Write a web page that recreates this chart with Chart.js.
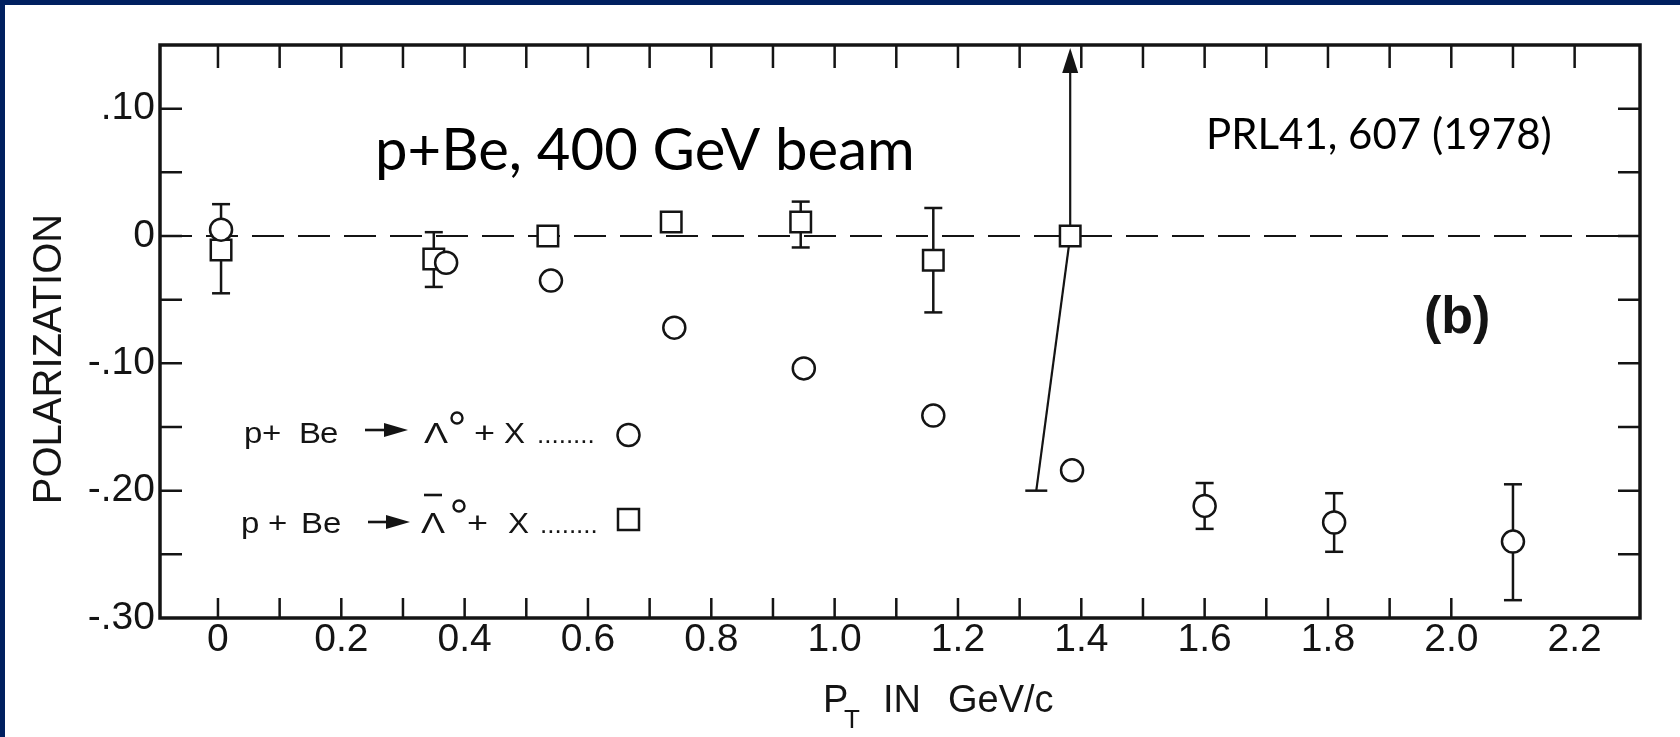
<!DOCTYPE html>
<html><head><meta charset="utf-8">
<script src="https://cdn.jsdelivr.net/npm/chart.js@4.4.1/dist/chart.umd.min.js"></script>
<style>
html,body{margin:0;padding:0;background:#fff;overflow:hidden;}
#wrap{position:absolute;left:0;top:0;width:1680px;height:737px;}
.bar{position:absolute;background:#002060;}
</style></head><body>
<div id="wrap"><canvas id="c"></canvas></div>
<div class="bar" style="left:0;top:0;width:1680px;height:5px"></div>
<div class="bar" style="left:0;top:0;width:5px;height:737px"></div>
<script>
// ---- data ----
const lambdaPt      = [0.005, 0.37, 0.54, 0.74, 0.95, 1.16, 1.385, 1.60, 1.81, 2.10];
const lambdaPol     = [0.005, -0.021, -0.035, -0.072, -0.104, -0.141, -0.184, -0.212, -0.225, -0.240];
const lambdaErrLow  = [null, null, null, null, null, null, null, -0.230, -0.248, -0.286];
const lambdaErrHigh = [null, null, null, null, null, null, null, -0.194, -0.202, -0.195];

const antiPt      = [0.005, 0.35, 0.535, 0.735, 0.945, 1.16, 1.382];
const antiPol     = [-0.011, -0.018, 0.0, 0.011, 0.011, -0.019, 0.0];
const antiErrLow  = [-0.045, -0.040, null, null, -0.009, -0.060, -0.200];
const antiErrHigh = [0.025, 0.003, null, null, 0.027, 0.022, null];
const antiOffScaleIndex = 6;      // upper error off scale (arrow)
const antiOffScaleLowPt = 1.327;  // where the lower leg ends

const xTickValues = [0, 0.2, 0.4, 0.6, 0.8, 1.0, 1.2, 1.4, 1.6, 1.8, 2.0, 2.2];
const xTickLabels = ["0", "0.2", "0.4", "0.6", "0.8", "1.0", "1.2", "1.4", "1.6", "1.8", "2.0", "2.2"];
const yTickValues = [0.10, 0, -0.10, -0.20, -0.30];
const yTickLabels = [".10", "0", "-.10", "-.20", "-.30"];
const xMarksTop    = [0,0.1,0.2,0.3,0.4,0.5,0.6,0.7,0.8,0.9,1.0,1.1,1.2,1.3,1.4,1.5,1.6,1.7,1.8,1.9,2.0,2.1,2.2];
const xMarksBottom = [0,0.1,0.2,0.3,0.4,0.5,0.6,0.7,0.8,0.9,1.0,1.1,1.2,1.3,1.4,1.5,1.6,1.7,1.8,1.9,2.0];
const yMarks       = [0.10,0.05,0,-0.05,-0.10,-0.15,-0.20,-0.25];

const yTitle = "POLARIZATION";
const xTitleMain = "P", xTitleSub = "T", xTitleRest = ["IN", "GeV/c"];
const beamNote = "p+Be, 400 GeV beam";
const refNote = "PRL41, 607 (1978)";
const panelNote = "(b)";
const legendReactant = ["p", "+", "B", "e"];
const legendProduct = ["\u039B", "\u039B"];
const legendBarred = [false, true];

const ink = '#141414';
const SANS = '"Liberation Sans", Arial, sans-serif';

function wideText(ctx, t, x, y, sx) {
  ctx.save(); ctx.translate(x, y); ctx.scale(sx, 1); ctx.fillText(t, 0, 0); ctx.restore();
}

const paperPlugin = {
  id: 'paper',
  beforeDatasetsDraw(chart) {
    const {ctx, chartArea: a, scales: {x, y}} = chart;
    ctx.save();
    ctx.strokeStyle = ink; ctx.fillStyle = ink;
    // dashed zero line
    ctx.lineWidth = 2; ctx.setLineDash([32, 14]);
    const y0 = y.getPixelForValue(0);
    ctx.beginPath(); ctx.moveTo(a.left, y0); ctx.lineTo(a.right, y0); ctx.stroke();
    ctx.setLineDash([]);
    // error bars
    ctx.lineWidth = 2.5;
    const cap = (px, py, w) => { ctx.beginPath(); ctx.moveTo(px - w/2, py); ctx.lineTo(px + w/2, py); ctx.stroke(); };
    const bars = (pts, lo, hi, skip) => {
      pts.forEach((p, i) => {
        if (i === skip) return;
        if (lo[i] == null && hi[i] == null) return;
        const px = x.getPixelForValue(p);
        const pl = y.getPixelForValue(lo[i]), ph = y.getPixelForValue(hi[i]);
        ctx.beginPath(); ctx.moveTo(px, pl); ctx.lineTo(px, ph); ctx.stroke();
        cap(px, pl, 18); cap(px, ph, 18);
      });
    };
    bars(lambdaPt, lambdaErrLow, lambdaErrHigh, -1);
    bars(antiPt, antiErrLow, antiErrHigh, antiOffScaleIndex);
    // off-scale point: arrow up + slanted lower leg
    const k = antiOffScaleIndex;
    const px = x.getPixelForValue(antiPt[k]), py = y.getPixelForValue(antiPol[k]);
    ctx.lineWidth = 2.2;
    ctx.beginPath(); ctx.moveTo(px, py); ctx.lineTo(px, a.top + 20); ctx.stroke();
    ctx.beginPath(); ctx.moveTo(px, a.top + 3); ctx.lineTo(px - 8, a.top + 28); ctx.lineTo(px + 8, a.top + 28); ctx.closePath(); ctx.fill();
    const lx = x.getPixelForValue(antiOffScaleLowPt), ly = y.getPixelForValue(antiErrLow[k]);
    ctx.beginPath(); ctx.moveTo(px, py); ctx.lineTo(lx, ly); ctx.stroke();
    ctx.lineWidth = 2.5; cap(lx, ly, 22);
    ctx.restore();
  },
  afterDraw(chart) {
    const {ctx, chartArea: a, scales: {x, y}} = chart;
    ctx.save();
    ctx.strokeStyle = ink; ctx.fillStyle = ink;
    // frame
    ctx.lineWidth = 3.5;
    ctx.strokeRect(a.left, a.top, a.right - a.left, a.bottom - a.top);
    // inward tick marks
    ctx.lineWidth = 2.5;
    ctx.beginPath();
    xMarksTop.forEach(v => { const p = x.getPixelForValue(v); ctx.moveTo(p, a.top); ctx.lineTo(p, a.top + 23); });
    xMarksBottom.forEach(v => { const p = x.getPixelForValue(v); ctx.moveTo(p, a.bottom); ctx.lineTo(p, a.bottom - 20); });
    yMarks.forEach(v => { const p = y.getPixelForValue(v); ctx.moveTo(a.left, p); ctx.lineTo(a.left + 22, p); ctx.moveTo(a.right, p); ctx.lineTo(a.right - 22, p); });
    ctx.stroke();

    // axis titles
    ctx.save();
    ctx.translate(50, 359); ctx.rotate(-Math.PI / 2);
    ctx.font = '40px ' + SANS; ctx.textAlign = 'center'; ctx.textBaseline = 'middle';
    ctx.fillText(yTitle, 0, 0);
    ctx.restore();
    ctx.textAlign = 'left'; ctx.textBaseline = 'alphabetic';
    ctx.font = '38px ' + SANS;
    ctx.fillText(xTitleMain, 823, 712);
    ctx.font = '26px ' + SANS;
    ctx.fillText(xTitleSub, 844, 728);
    ctx.font = '38px ' + SANS;
    ctx.fillText(xTitleRest[0], 883, 712);
    ctx.fillText(xTitleRest[1], 948, 712);

    // annotations
    ctx.fillStyle = '#000';
    ctx.font = '58px Lato, "Open Sans", sans-serif';
    ctx.fillText(beamNote, 375, 170);
    ctx.font = '42px Lato, "Open Sans", sans-serif';
    ctx.fillText(refNote, 1206, 149);
    ctx.fillStyle = ink;
    ctx.font = 'bold 52px ' + SANS;
    ctx.fillText(panelNote, 1424, 333);

    // legend
    const bases = [443, 533];
    const reactX = [[244, 262, 299, 320], [241, 268, 301, 323]];
    const arrowX = [[365, 408, 430], [368, 410, 522]];
    const lamX = [424, 421], degX = [451, 453], plusX = [474, 467], xX = [504, 508], dotsX = [537, 540];
    bases.forEach((base, i) => {
      ctx.font = '30px ' + SANS;
      legendReactant.forEach((t, j) => wideText(ctx, t, reactX[i][j], base, 1.1));
      // arrow
      const [ax0, ax1, ay] = arrowX[i];
      ctx.lineWidth = 2.6;
      ctx.beginPath(); ctx.moveTo(ax0, ay); ctx.lineTo(ax1 - 14, ay); ctx.stroke();
      ctx.beginPath(); ctx.moveTo(ax1, ay); ctx.lineTo(ax1 - 24, ay - 7); ctx.lineTo(ax1 - 24, ay + 7); ctx.closePath(); ctx.fill();
      wideText(ctx, legendProduct[i], lamX[i], base, 1.2);
      if (legendBarred[i]) { ctx.lineWidth = 2.6; ctx.beginPath(); ctx.moveTo(lamX[i] + 3, base - 38); ctx.lineTo(lamX[i] + 21, base - 38); ctx.stroke(); }
      ctx.lineWidth = 2.4; ctx.beginPath(); ctx.arc(degX[i] + 6, base - (i ? 27 : 25), 5.5, 0, Math.PI * 2); ctx.stroke();
      wideText(ctx, '+', plusX[i], base, 1.2);
      wideText(ctx, 'X', xX[i], base, 1.05);
      ctx.font = '26px ' + SANS;
      ctx.fillText('........', dotsX[i], base);
    });
    // legend symbols
    ctx.lineWidth = 2.5; ctx.fillStyle = '#fff';
    ctx.beginPath(); ctx.arc(628.5, 435, 11, 0, Math.PI * 2); ctx.fill(); ctx.stroke();
    ctx.beginPath(); ctx.rect(618, 509, 21, 21); ctx.fill(); ctx.stroke();
    ctx.restore();
  }
};

const tickFont = {family: SANS, size: 39, lineHeight: 1};

new Chart(document.getElementById('c'), {
  type: 'scatter',
  data: {
    datasets: [
      { label: 'Lambda', data: lambdaPt.map((v, i) => ({x: v, y: lambdaPol[i]})),
        pointStyle: 'circle', pointRadius: 11, pointHoverRadius: 11,
        borderColor: ink, backgroundColor: '#fff', borderWidth: 2.5, pointBorderWidth: 2.5 },
      { label: 'AntiLambda', data: antiPt.map((v, i) => ({x: v, y: antiPol[i]})),
        pointStyle: 'rect', pointRadius: 14.5, pointHoverRadius: 14.5,
        borderColor: ink, backgroundColor: '#fff', borderWidth: 2.5, pointBorderWidth: 2.5 }
    ]
  },
  options: {
    responsive: true, maintainAspectRatio: false, animation: false,
    layout: {padding: {left: 0, top: 45, right: 40, bottom: 0}},
    plugins: {legend: {display: false}, tooltip: {enabled: false}},
    events: [],
    scales: {
      x: {
        type: 'linear', position: 'bottom', min: -0.094, max: 2.306,
        afterFit(s) { s.height = 119; },
        afterBuildTicks(s) { s.ticks = xTickValues.map(v => ({value: v})); },
        grid: {display: false, drawTicks: false}, border: {display: false},
        ticks: {autoSkip: false, maxRotation: 0, minRotation: 0, padding: 3, color: ink, font: tickFont,
                callback: (v, i) => xTickLabels[i]}
      },
      y: {
        type: 'linear', position: 'left', min: -0.30, max: 0.15,
        afterFit(s) { s.width = 160; },
        afterBuildTicks(s) { s.ticks = yTickValues.map(v => ({value: v})); },
        grid: {display: false, drawTicks: false}, border: {display: false},
        ticks: {autoSkip: false, padding: 5, color: ink, font: tickFont,
                callback: (v, i) => yTickLabels[i]}
      }
    }
  },
  plugins: [paperPlugin]
});
</script>
</body></html>
